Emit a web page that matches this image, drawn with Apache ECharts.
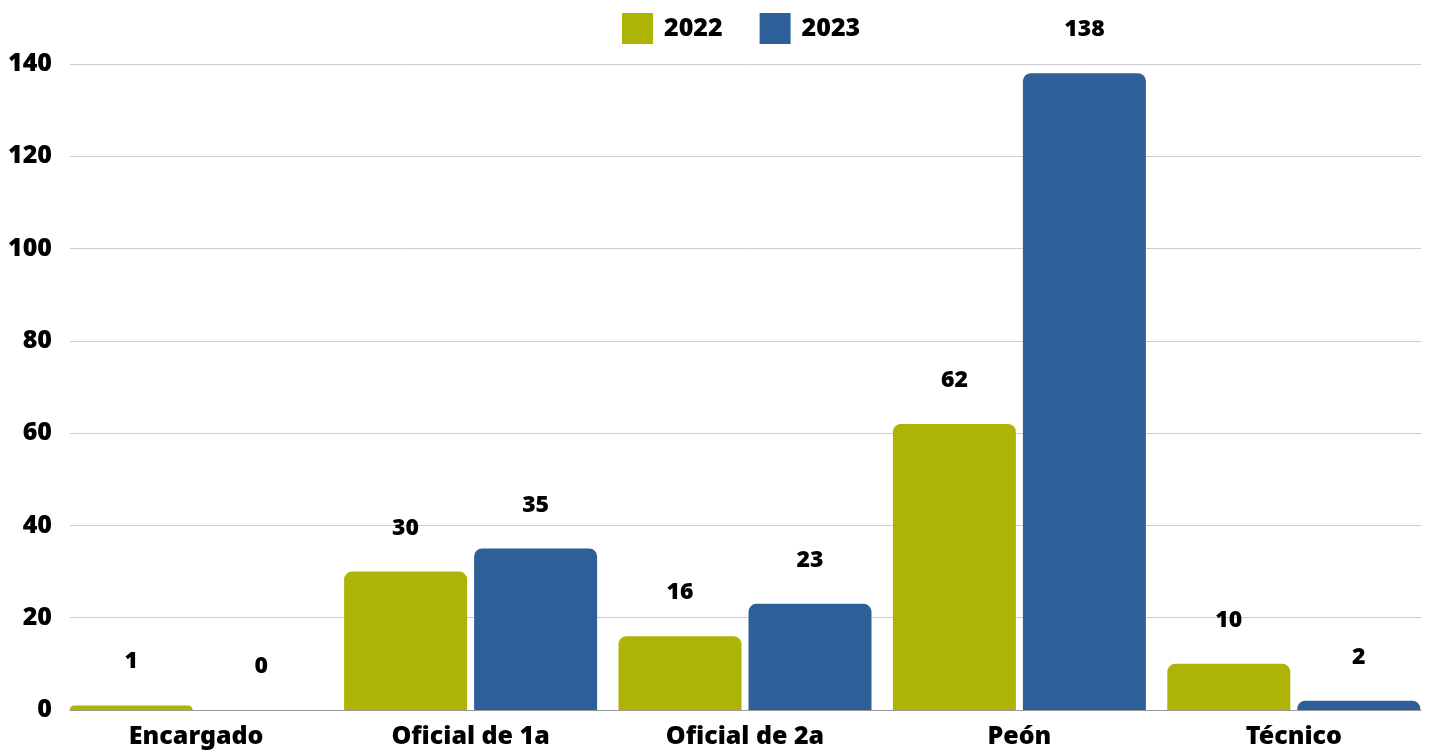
<!DOCTYPE html>
<html>
<head>
<meta charset="utf-8">
<script src="https://cdn.jsdelivr.net/npm/echarts@6/dist/echarts.min.js"></script>
<style>
  html, body { margin: 0; padding: 0; background: #fff; }
  #chart { width: 1431px; height: 752px; }
</style>
</head>
<body>
<div id="chart"></div>
<script>
// datos del gráfico
var categories = ["Encargado", "Oficial de 1a", "Oficial de 2a", "Peón", "Técnico"];
var years = ["2022", "2023"];
var values2022 = [1, 30, 16, 62, 10];
var values2023 = [0, 35, 23, 138, 2];
var yTicks = { min: 0, max: 140, interval: 20 };

var colors = ["#adb405", "#2e5f98"];
var font = "Noto Sans";
var weight = 900;

var chart = echarts.init(document.getElementById("chart"));

function barSeries(name, data, color) {
  return {
    name: name,
    type: "bar",
    xAxisIndex: 1,
    yAxisIndex: 1,
    data: data,
    barWidth: 123,
    barGap: "5.7%",
    itemStyle: { color: color, borderRadius: [8, 8, 0, 0] },
    label: {
      show: true,
      position: "top",
      distance: 32,
      color: "#000",
      fontFamily: font,
      fontWeight: weight,
      fontSize: 23,
    },
  };
}

var option = {
  backgroundColor: "#fff",
  animation: false,
  color: colors,
  legend: {
    top: 8,
    left: 617,
    itemWidth: 31,
    itemHeight: 31,
    itemGap: 37,
    icon: "rect",
    textStyle: {
      fontFamily: font,
      fontWeight: weight,
      fontSize: 25,
      color: "#000",
      padding: [0, 0, 0, 6],
    },
    data: years,
  },
  // grid 0: líneas y eje Y ; grid 1: barras y categorías
  grid: [
    { left: 70, right: 10, top: 64, bottom: 42 },
    { left: 59, right: -1, top: 64, bottom: 42 },
  ],
  xAxis: [
    {
      type: "category",
      gridIndex: 0,
      data: categories,
      axisLine: { show: true, lineStyle: { color: "#999", width: 1 } },
      axisTick: { show: false },
      axisLabel: { show: false },
    },
    {
      type: "category",
      gridIndex: 1,
      data: categories,
      axisLine: { show: false },
      axisTick: { show: false },
      axisLabel: {
        margin: 14,
        color: "#000",
        fontFamily: font,
        fontWeight: weight,
        fontSize: 25,
      },
    },
  ],
  yAxis: [
    {
      type: "value",
      gridIndex: 0,
      min: yTicks.min,
      max: yTicks.max,
      interval: yTicks.interval,
      axisLine: { show: false },
      axisTick: { show: false },
      splitLine: { lineStyle: { color: "#cccccc", width: 1 } },
      axisLabel: {
        margin: 18,
        color: "#000",
        fontFamily: font,
        fontWeight: weight,
        fontSize: 25,
      },
    },
    {
      type: "value",
      gridIndex: 1,
      min: yTicks.min,
      max: yTicks.max,
      interval: yTicks.interval,
      show: false,
      splitLine: { show: false },
    },
  ],
  series: [
    barSeries(years[0], values2022, colors[0]),
    barSeries(years[1], values2023, colors[1]),
  ],
};

chart.setOption(option);
</script>
</body>
</html>
